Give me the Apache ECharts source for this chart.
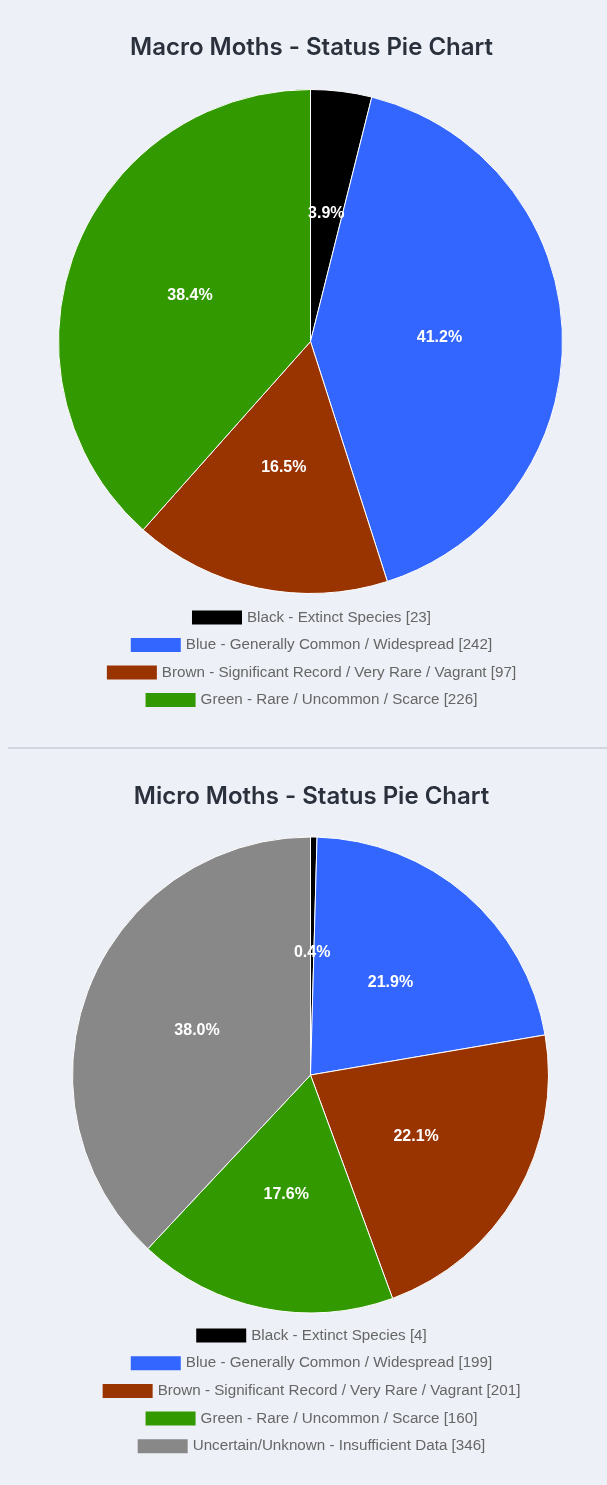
<!DOCTYPE html>
<html>
<head>
<meta charset="utf-8">
<title>Moths - Status Pie Charts</title>
<script src="https://cdn.jsdelivr.net/npm/echarts@6/dist/echarts.min.js"></script>
<style>
  html, body { margin: 0; padding: 0; background: #eef0f7; overflow: hidden; }
  /* canvas runs a little past the right edge so centred text sits at x≈311 */
  #chart { width: 623px; height: 1485px; }
</style>
</head>
<body>
<div id="chart"></div>
<script>
// Status categories and species counts
const macroTitle = 'Macro Moths - Status Pie Chart';
const macroNames = [
  'Black - Extinct Species',
  'Blue - Generally Common / Widespread',
  'Brown - Significant Record / Very Rare / Vagrant',
  'Green - Rare / Uncommon / Scarce'
];
const macroCounts = [23, 242, 97, 226];
const macroColors = ['#000000', '#3366ff', '#993300', '#339900'];

const microTitle = 'Micro Moths - Status Pie Chart';
const microNames = [
  'Black - Extinct Species',
  'Blue - Generally Common / Widespread',
  'Brown - Significant Record / Very Rare / Vagrant',
  'Green - Rare / Uncommon / Scarce',
  'Uncertain/Unknown - Insufficient Data'
];
const microCounts = [4, 199, 201, 160, 346];
const microColors = ['#000000', '#3366ff', '#993300', '#339900', '#888888'];

const FONT = 'Liberation Sans, Arial, sans-serif';

function legendLabel(name, counts, names) {
  return name + ' [' + counts[names.indexOf(name)] + ']';
}

function pieSeries(id, names, counts, colors, center, radius) {
  return {
    type: 'pie',
    id: id,
    center: center,
    radius: radius,
    startAngle: 90,
    clockwise: true,
    percentPrecision: 1,
    avoidLabelOverlap: false,
    animation: false,
    emphasis: { disabled: true },
    itemStyle: { borderColor: '#ffffff', borderWidth: 1 },
    label: {
      show: true,
      position: 'inside',
      color: '#ffffff',
      fontFamily: FONT,
      fontWeight: 'bold',
      fontSize: 16,
      formatter: p => p.percent.toFixed(1) + '%'
    },
    labelLine: { show: false },
    data: names.map((n, i) => ({ name: n, value: counts[i], itemStyle: { color: colors[i] } }))
  };
}

// One centred legend row per category
function legendRows(names, counts, top0, step) {
  return names.map((n, i) => ({
    data: [n],
    left: 'center',
    top: top0 + i * step,
    orient: 'horizontal',
    itemWidth: 50,
    itemHeight: 14,
    itemGap: 8,
    selectedMode: false,
    icon: 'rect',
    itemStyle: { borderWidth: 0 },
    textStyle: { color: '#666666', fontSize: 15.2, fontFamily: FONT },
    formatter: name => legendLabel(name, counts, names)
  }));
}

const titleStyle = {
  color: '#2a313c',
  fontSize: 24,
  fontWeight: 600,
  fontFamily: 'Inter, Noto Sans, sans-serif'
};

const chart = echarts.init(document.getElementById('chart'), null, { renderer: 'canvas' });
chart.setOption({
  backgroundColor: '#eef0f7',
  animation: false,
  title: [
    { text: macroTitle, left: 'center', top: 31, textStyle: titleStyle },
    { text: microTitle, left: 'center', top: 780, textStyle: titleStyle }
  ],
  legend: [
    ...legendRows(macroNames, macroCounts, 605, 27.5),
    ...legendRows(microNames, microCounts, 1323, 27.7)
  ],
  graphic: [
    {
      type: 'line',
      shape: { x1: 8, y1: 748, x2: 623, y2: 748 },
      style: { stroke: '#c9ced8', lineWidth: 1.5 }
    }
  ],
  series: [
    pieSeries('macro', macroNames, macroCounts, macroColors, [310.5, 341.5], [0, 252]),
    pieSeries('micro', microNames, microCounts, microColors, [310.5, 1075], [0, 238])
  ]
});
</script>
</body>
</html>
